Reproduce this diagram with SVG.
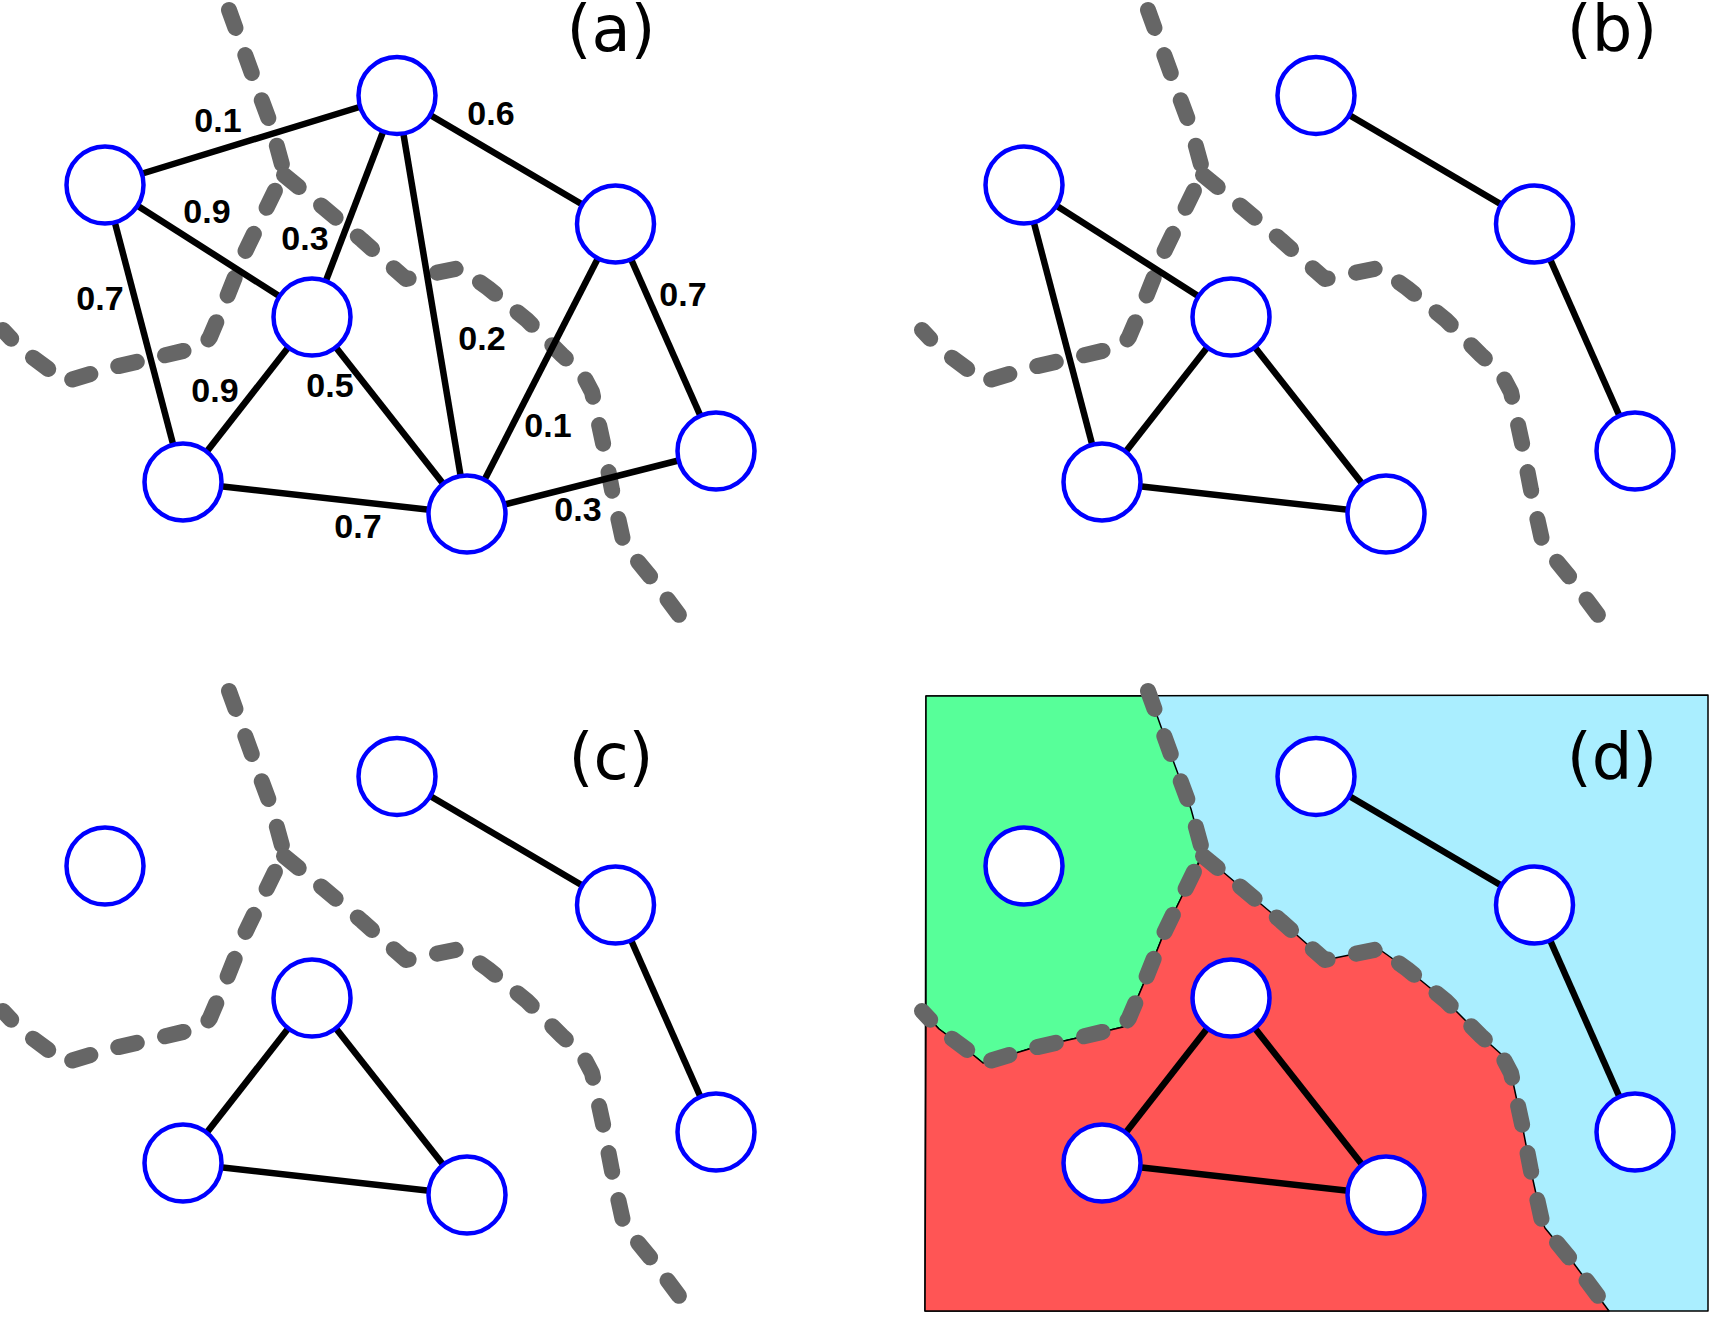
<svg xmlns="http://www.w3.org/2000/svg" width="1710" height="1317" viewBox="0 0 1710 1317">
  <style>
    .node circle { fill: #ffffff; stroke: #0000ff; stroke-width: 4.5; }
    .edges line { stroke: #000000; stroke-width: 6.5; }
    .cut { fill: none; stroke: #666666; stroke-width: 16; stroke-linecap: round; stroke-linejoin: round; stroke-dasharray: 19 29; }
    .w { font-family: "Liberation Sans", Arial, sans-serif; font-weight: bold; font-size: 34px; text-anchor: middle; fill: #000; }
    .title { font-family: "DejaVu Sans", sans-serif; font-size: 64px; text-anchor: middle; fill: #000; }
    .region { stroke: #000000; stroke-width: 1.5; stroke-linejoin: round; }
  </style>
  <defs>
    <!-- partition boundaries, drawn in panel-local coordinates -->
    <path id="cut-left" d="M229,10 L255,82 L272,128 L284,172 L267,207 L245,252 L227,297 L210,337 L204,346 L158,357 L110,368 L64,382 L47,368 L20,348 L3,330"/>
    <path id="cut-right" d="M284,175 L323,207 L362,240 L406,279 L460,268 L488,288 L527,320 L562,355 L582,373 L592,392 L603,443 L612,490 L623,540 L626,547 L653,580 L685,623"/>
  </defs>

  <!-- panel (d) background regions -->
  <g id="regions-d" transform="translate(919,681)">
    <polygon class="region" fill="#aaeeff" stroke-width="2" points="7,15 789,14 789,630 6,630"/>
    <polygon class="region" fill="#57ff99" points="7,15 231,15 255,82 272,128 284,172 267,207 245,252 227,297 210,337 204,346 158,357 110,368 64,382 47,368 20,348 7,334"/>
    <polygon class="region" fill="#ff5555" points="284,174 267,207 245,252 227,297 210,337 204,346 158,357 110,368 64,382 47,368 20,348 7,334 6,630 690,630 653,580 626,547 623,540 612,490 603,443 592,392 582,373 562,355 527,320 488,288 460,268 406,279 362,240 323,207"/>
  </g>

  <!-- dashed partition lines in every panel -->
  <g id="cuts">
    <use href="#cut-left" class="cut"/>
    <use href="#cut-right" class="cut"/>
    <use href="#cut-left" class="cut" transform="translate(919,0)"/>
    <use href="#cut-right" class="cut" transform="translate(919,0)"/>
    <use href="#cut-left" class="cut" transform="translate(0,681)"/>
    <use href="#cut-right" class="cut" transform="translate(0,681)"/>
    <use href="#cut-left" class="cut" transform="translate(919,681)"/>
    <use href="#cut-right" class="cut" transform="translate(919,681)"/>
  </g>

  <!-- panel (a): full weighted graph -->
  <g id="panel-a">
    <g class="edges" id="edges-a">
      <line x1="105" y1="185" x2="397" y2="95.5"/>
      <line x1="105" y1="185" x2="312" y2="317"/>
      <line x1="105" y1="185" x2="183" y2="482"/>
      <line x1="397" y1="95.5" x2="312" y2="317"/>
      <line x1="397" y1="95.5" x2="467" y2="514"/>
      <line x1="397" y1="95.5" x2="615.5" y2="224"/>
      <line x1="615.5" y1="224" x2="467" y2="514"/>
      <line x1="615.5" y1="224" x2="716" y2="451"/>
      <line x1="312" y1="317" x2="183" y2="482"/>
      <line x1="312" y1="317" x2="467" y2="514"/>
      <line x1="183" y1="482" x2="467" y2="514"/>
      <line x1="467" y1="514" x2="716" y2="451"/>
    </g>
    <g id="weights-a">
      <text class="w" x="218" y="132">0.1</text>
      <text class="w" x="491" y="125">0.6</text>
      <text class="w" x="207" y="223">0.9</text>
      <text class="w" x="305" y="250">0.3</text>
      <text class="w" x="100" y="310">0.7</text>
      <text class="w" x="683" y="306">0.7</text>
      <text class="w" x="482" y="350">0.2</text>
      <text class="w" x="215" y="402">0.9</text>
      <text class="w" x="330" y="397">0.5</text>
      <text class="w" x="548" y="437">0.1</text>
      <text class="w" x="358" y="538">0.7</text>
      <text class="w" x="578" y="521">0.3</text>
    </g>
    <g id="a1" class="node"><circle cx="105" cy="185" r="38.5"/></g>
    <g id="a2" class="node"><circle cx="397" cy="95.5" r="38.5"/></g>
    <g id="a3" class="node"><circle cx="615.5" cy="224" r="38.5"/></g>
    <g id="a4" class="node"><circle cx="312" cy="317" r="38.5"/></g>
    <g id="a5" class="node"><circle cx="183" cy="482" r="38.5"/></g>
    <g id="a6" class="node"><circle cx="467" cy="514" r="38.5"/></g>
    <g id="a7" class="node"><circle cx="716" cy="451" r="38.5"/></g>
    <text class="title" x="611" y="51">(a)</text>
  </g>

  <!-- panel (b) -->
  <g id="panel-b" transform="translate(919,0)">
    <g class="edges" id="edges-b">
      <line x1="105" y1="185" x2="312" y2="317"/>
      <line x1="105" y1="185" x2="183" y2="482"/>
      <line x1="312" y1="317" x2="183" y2="482"/>
      <line x1="312" y1="317" x2="467" y2="514"/>
      <line x1="183" y1="482" x2="467" y2="514"/>
      <line x1="397" y1="95.5" x2="615.5" y2="224"/>
      <line x1="615.5" y1="224" x2="716" y2="451"/>
    </g>
    <g id="b1" class="node"><circle cx="105" cy="185" r="38.5"/></g>
    <g id="b2" class="node"><circle cx="397" cy="95.5" r="38.5"/></g>
    <g id="b3" class="node"><circle cx="615.5" cy="224" r="38.5"/></g>
    <g id="b4" class="node"><circle cx="312" cy="317" r="38.5"/></g>
    <g id="b5" class="node"><circle cx="183" cy="482" r="38.5"/></g>
    <g id="b6" class="node"><circle cx="467" cy="514" r="38.5"/></g>
    <g id="b7" class="node"><circle cx="716" cy="451" r="38.5"/></g>
    <text class="title" x="693" y="51">(b)</text>
  </g>

  <!-- panel (c) -->
  <g id="panel-c" transform="translate(0,681)">
    <g class="edges" id="edges-c">
      <line x1="397" y1="95.5" x2="615.5" y2="224"/>
      <line x1="615.5" y1="224" x2="716" y2="451"/>
      <line x1="312" y1="317" x2="183" y2="482"/>
      <line x1="312" y1="317" x2="467" y2="514"/>
      <line x1="183" y1="482" x2="467" y2="514"/>
    </g>
    <g id="c1" class="node"><circle cx="105" cy="185" r="38.5"/></g>
    <g id="c2" class="node"><circle cx="397" cy="95.5" r="38.5"/></g>
    <g id="c3" class="node"><circle cx="615.5" cy="224" r="38.5"/></g>
    <g id="c4" class="node"><circle cx="312" cy="317" r="38.5"/></g>
    <g id="c5" class="node"><circle cx="183" cy="482" r="38.5"/></g>
    <g id="c6" class="node"><circle cx="467" cy="514" r="38.5"/></g>
    <g id="c7" class="node"><circle cx="716" cy="451" r="38.5"/></g>
    <text class="title" x="611" y="98">(c)</text>
  </g>

  <!-- panel (d) -->
  <g id="panel-d" transform="translate(919,681)">
    <g class="edges" id="edges-d">
      <line x1="397" y1="95.5" x2="615.5" y2="224"/>
      <line x1="615.5" y1="224" x2="716" y2="451"/>
      <line x1="312" y1="317" x2="183" y2="482"/>
      <line x1="312" y1="317" x2="467" y2="514"/>
      <line x1="183" y1="482" x2="467" y2="514"/>
    </g>
    <g id="d1" class="node"><circle cx="105" cy="185" r="38.5"/></g>
    <g id="d2" class="node"><circle cx="397" cy="95.5" r="38.5"/></g>
    <g id="d3" class="node"><circle cx="615.5" cy="224" r="38.5"/></g>
    <g id="d4" class="node"><circle cx="312" cy="317" r="38.5"/></g>
    <g id="d5" class="node"><circle cx="183" cy="482" r="38.5"/></g>
    <g id="d6" class="node"><circle cx="467" cy="514" r="38.5"/></g>
    <g id="d7" class="node"><circle cx="716" cy="451" r="38.5"/></g>
    <text class="title" x="693" y="98">(d)</text>
  </g>
</svg>
